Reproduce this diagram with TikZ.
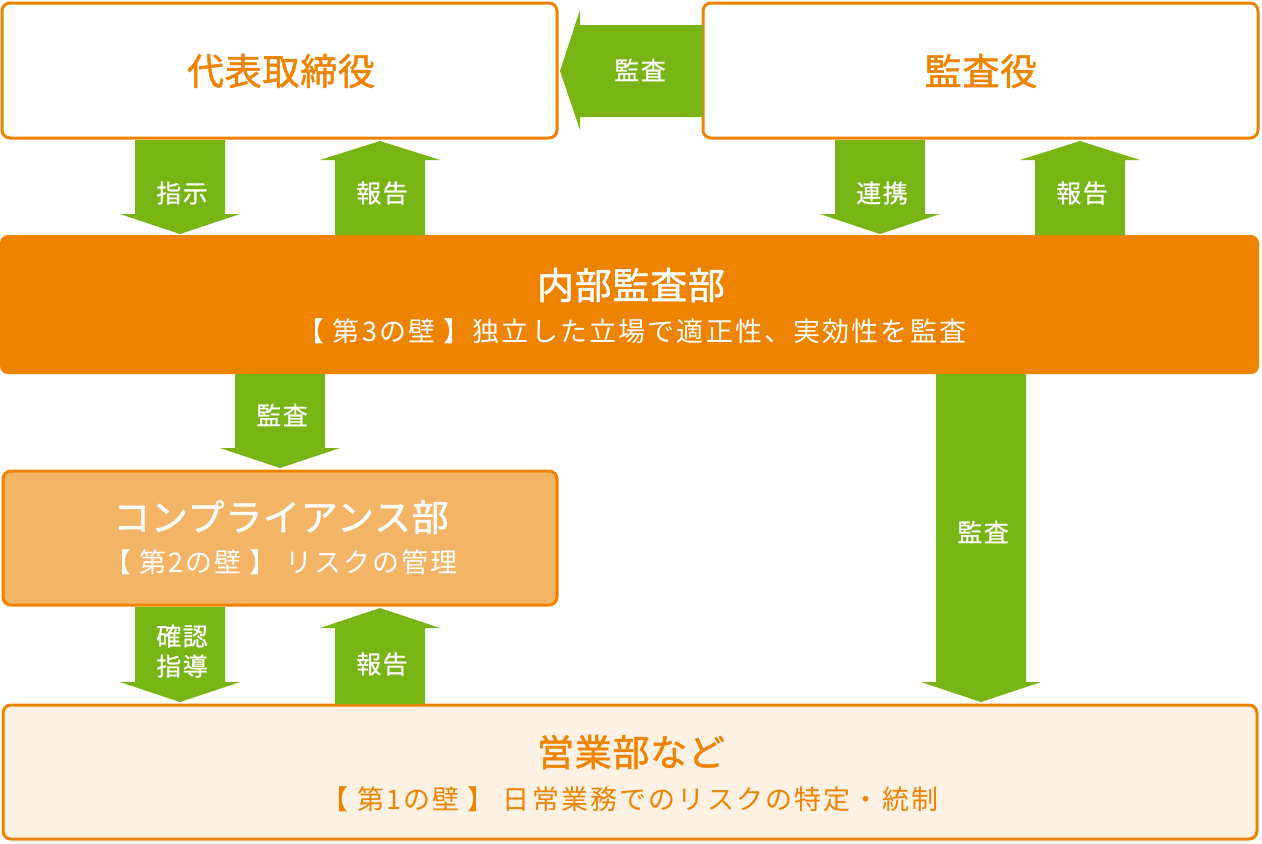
\documentclass[tikz,border=0pt]{standalone}
\usepackage{fontspec}
\setmainfont{Noto Sans CJK JP}
\newfontfamily\jptitle{Noto Sans CJK JP}[FakeBold=1.3,LetterSpace=2]
\newfontfamily\jpsub{Noto Sans CJK JP}[LetterSpace=8]
\newfontfamily\jplab{Noto Sans CJK JP}[FakeBold=0.7,LetterSpace=6]
\definecolor{orng}{RGB}{238,131,0}
\definecolor{grn}{RGB}{120,180,20}
\definecolor{midorng}{RGB}{244,180,101}
\definecolor{pale}{RGB}{252,241,227}
\newcommand\mkdown[4]{\fill[grn] (#1-45,#2) -- (#1+45,#2) -- (#1+45,#3) -- (#1+60,#3) -- (#1,#4) -- (#1-60,#3) -- (#1-45,#3) -- cycle;}
\newcommand\mkup[4]{\fill[grn] (#1-45,#2) -- (#1+45,#2) -- (#1+45,#3) -- (#1+60,#3) -- (#1,#4) -- (#1-60,#3) -- (#1-45,#3) -- cycle;}
\begin{document}
\begin{tikzpicture}[x=1pt,y=-1pt,
  box/.style={draw=orng,line width=3pt,rounded corners=8pt},
  title/.style={font=\jptitle\fontsize{37}{40}\selectfont},
  sub/.style={font=\jpsub\fontsize{27}{32}\selectfont},
  lab/.style={text=white,font=\jplab\fontsize{25}{31}\selectfont,align=center,inner sep=0pt}]
\useasboundingbox (0,0) rectangle (1262,844);
% boxes
\draw[box,fill=white] (2,3) rectangle (557,138);
\draw[box,fill=white] (703,3) rectangle (1258,138);
\fill[orng,rounded corners=8pt] (0,235) rectangle (1259,374);
\draw[box,fill=midorng] (3,471) rectangle (557,605);
\draw[box,fill=pale] (3,705) rectangle (1257,839);
% box texts
\node[title,text=orng] (ceo) at (281,71) {代表取締役};
\node[title,text=orng] (aud) at (981,71) {監査役};
\node[title,text=white] (iad) at (631,285) {内部監査部};
\node[sub,text=white] (iads) at (632,331) {【 第3の壁 】独立した立場で適正性、実効性を監査};
\node[title,text=white] (cmp) at (281,517) {コンプライアンス部};
\node[sub,text=white] (cmps) at (281,562) {【 第2の壁 】 リスクの管理};
\node[title,text=orng] (biz) at (631,752) {営業部など};
\node[sub,text=orng] (bizs) at (630,799) {【 第1の壁 】 日常業務でのリスクの特定・統制};
% left arrow
\fill[grn] (703,25) -- (703,117) -- (580,117) -- (580,130) -- (560,71) -- (580,10) -- (580,25) -- cycle;
\node[lab] (l1) at (640,70) {監査};
% top arrows
\mkdown{180}{140}{214}{234}
\node[lab] (l2) at (182,193) {指示};
\mkup{380}{235}{160}{141}
\node[lab] (l3) at (382,193) {報告};
\mkdown{880}{140}{214}{234}
\node[lab] (l4) at (882,193) {連携};
\mkup{1080}{235}{160}{141}
\node[lab] (l5) at (1082,193) {報告};
% middle
\mkdown{280}{374}{448}{468}
\node[lab] (l6) at (282,415) {監査};
\mkdown{981}{374}{682}{702}
\node[lab] (l7) at (983,532) {監査};
% bottom
\mkdown{180}{607}{682}{702}
\node[lab] (l8) at (182,651) {確認\\[-1pt]指導};
\mkup{380}{704}{628}{608}
\node[lab] (l9) at (382,664) {報告};
\end{tikzpicture}
\end{document}
